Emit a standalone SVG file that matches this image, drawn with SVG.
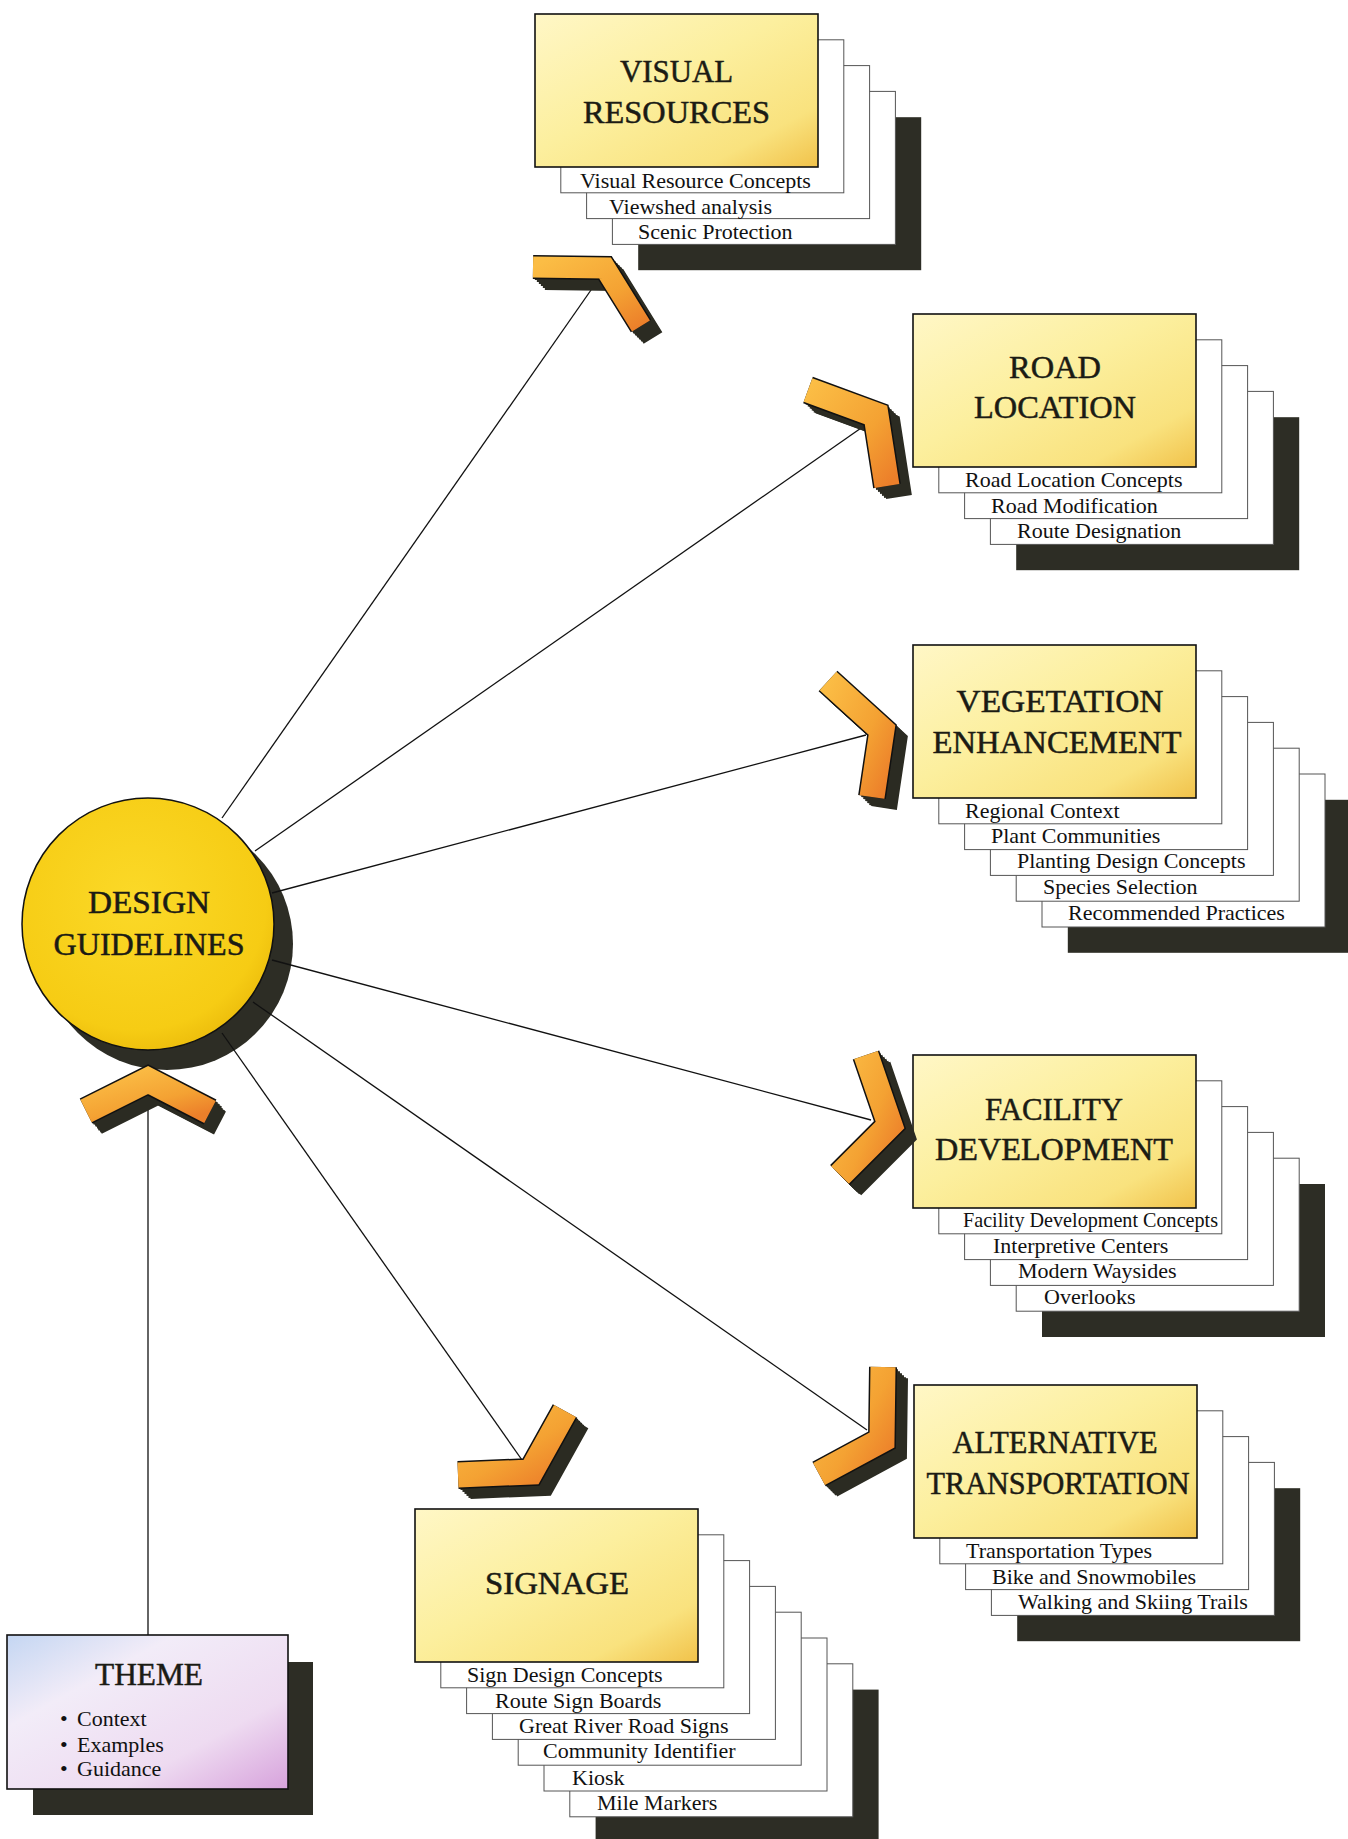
<svg xmlns="http://www.w3.org/2000/svg" width="1348" height="1839" viewBox="0 0 1348 1839">
<defs>
<linearGradient id="boxGrad" x1="0" y1="0" x2="1" y2="1">
<stop offset="0" stop-color="#fff7c6"/>
<stop offset="0.45" stop-color="#fcef9e"/>
<stop offset="0.8" stop-color="#f9e27e"/>
<stop offset="1" stop-color="#f1c24a"/>
</linearGradient>
<linearGradient id="themeGrad" x1="0" y1="0" x2="1" y2="1">
<stop offset="0" stop-color="#c4d6f2"/>
<stop offset="0.3" stop-color="#f2ecf8"/>
<stop offset="0.7" stop-color="#eedbf1"/>
<stop offset="1" stop-color="#d7a2dc"/>
</linearGradient>
<radialGradient id="circGrad" cx="0.45" cy="0.4" r="0.65">
<stop offset="0" stop-color="#fbd928"/>
<stop offset="0.8" stop-color="#f6cc14"/>
<stop offset="1" stop-color="#eab90a"/>
</radialGradient>
<linearGradient id="chevGrad" x1="0" y1="0" x2="1" y2="1">
<stop offset="0" stop-color="#fbbd45"/>
<stop offset="0.6" stop-color="#f4a233"/>
<stop offset="1" stop-color="#ec7f2a"/>
</linearGradient>
<style>
.title{font-family:"Liberation Serif","Times New Roman",serif;font-size:32px;fill:#1b1b14;stroke:#1b1b14;stroke-width:0.5;text-anchor:middle}
.item{font-family:"Liberation Serif","Times New Roman",serif;font-size:22px;fill:#111}
.layer{fill:#fff;stroke:#555;stroke-width:1}
.main{fill:url(#boxGrad);stroke:#111;stroke-width:1.6}
.shadow{fill:#2d2d25}
.conn{stroke:#111;stroke-width:1.3;fill:none}
.chevShadow{fill:none;stroke:#2b2b22;stroke-linejoin:miter;stroke-linecap:butt}
.chevEdge{fill:none;stroke:#111;stroke-linejoin:miter;stroke-linecap:butt}
.chevFace{fill:none;stroke:url(#chevGrad);stroke-linejoin:miter;stroke-linecap:butt}
</style>
</defs>
<rect width="1348" height="1839" fill="#ffffff"/>

<!-- Design Guidelines -->
<g id="design-guidelines">
<circle cx="167" cy="944" r="126" class="shadow"/>
<circle cx="148" cy="924" r="126" fill="url(#circGrad)" stroke="#111" stroke-width="1.5"/>
<text class="title" x="149" y="913" textLength="122" lengthAdjust="spacingAndGlyphs">DESIGN</text>
<text class="title" x="149" y="955" textLength="191" lengthAdjust="spacingAndGlyphs">GUIDELINES</text>
</g>

<!-- Visual Resources -->
<g id="visual-resources">
<rect class="shadow" x="638.2" y="117.2" width="283" height="153"/>
<rect class="layer" x="612.4" y="91.4" width="283" height="153"/>
<rect class="layer" x="586.6" y="65.6" width="283" height="153"/>
<rect class="layer" x="560.8" y="39.8" width="283" height="153"/>
<rect class="main" x="535" y="14" width="283" height="153"/>
<text class="title" x="676.5" y="82" textLength="113" lengthAdjust="spacingAndGlyphs">VISUAL</text>
<text class="title" x="676.5" y="123" textLength="187" lengthAdjust="spacingAndGlyphs">RESOURCES</text>
<text class="item" x="580" y="188">Visual Resource Concepts</text>
<text class="item" x="609" y="214">Viewshed analysis</text>
<text class="item" x="638" y="239">Scenic Protection</text>
</g>

<!-- Road Location -->
<g id="road-location">
<rect class="shadow" x="1016.2" y="417.2" width="283" height="153"/>
<rect class="layer" x="990.4" y="391.4" width="283" height="153"/>
<rect class="layer" x="964.6" y="365.6" width="283" height="153"/>
<rect class="layer" x="938.8" y="339.8" width="283" height="153"/>
<rect class="main" x="913" y="314" width="283" height="153"/>
<text class="title" x="1055" y="378" textLength="92" lengthAdjust="spacingAndGlyphs">ROAD</text>
<text class="title" x="1055" y="418" textLength="162" lengthAdjust="spacingAndGlyphs">LOCATION</text>
<text class="item" x="965" y="487">Road Location Concepts</text>
<text class="item" x="991" y="513">Road Modification</text>
<text class="item" x="1017" y="538">Route Designation</text>
</g>

<!-- Vegetation Enhancement -->
<g id="vegetation-enhancement">
<rect class="shadow" x="1067.8" y="799.8" width="283" height="153"/>
<rect class="layer" x="1042" y="774" width="283" height="153"/>
<rect class="layer" x="1016.2" y="748.2" width="283" height="153"/>
<rect class="layer" x="990.4" y="722.4" width="283" height="153"/>
<rect class="layer" x="964.6" y="696.6" width="283" height="153"/>
<rect class="layer" x="938.8" y="670.8" width="283" height="153"/>
<rect class="main" x="913" y="645" width="283" height="153"/>
<text class="title" x="1060" y="712" textLength="207" lengthAdjust="spacingAndGlyphs">VEGETATION</text>
<text class="title" x="1057" y="753" textLength="249" lengthAdjust="spacingAndGlyphs">ENHANCEMENT</text>
<text class="item" x="965" y="818">Regional Context</text>
<text class="item" x="991" y="843">Plant Communities</text>
<text class="item" x="1017" y="868">Planting Design Concepts</text>
<text class="item" x="1043" y="894">Species Selection</text>
<text class="item" x="1068" y="920">Recommended Practices</text>
</g>

<!-- Facility Development -->
<g id="facility-development">
<rect class="shadow" x="1042" y="1184" width="283" height="153"/>
<rect class="layer" x="1016.2" y="1158.2" width="283" height="153"/>
<rect class="layer" x="990.4" y="1132.4" width="283" height="153"/>
<rect class="layer" x="964.6" y="1106.6" width="283" height="153"/>
<rect class="layer" x="938.8" y="1080.8" width="283" height="153"/>
<rect class="main" x="913" y="1055" width="283" height="153"/>
<text class="title" x="1054" y="1120" textLength="138" lengthAdjust="spacingAndGlyphs">FACILITY</text>
<text class="title" x="1054" y="1160" textLength="238" lengthAdjust="spacingAndGlyphs">DEVELOPMENT</text>
<text class="item" x="963" y="1227" textLength="255" lengthAdjust="spacingAndGlyphs">Facility Development Concepts</text>
<text class="item" x="993" y="1253">Interpretive Centers</text>
<text class="item" x="1018" y="1278">Modern Waysides</text>
<text class="item" x="1044" y="1304">Overlooks</text>
</g>

<!-- Alternative Transportation -->
<g id="alternative-transportation">
<rect class="shadow" x="1017.2" y="1488.2" width="283" height="153"/>
<rect class="layer" x="991.4" y="1462.4" width="283" height="153"/>
<rect class="layer" x="965.6" y="1436.6" width="283" height="153"/>
<rect class="layer" x="939.8" y="1410.8" width="283" height="153"/>
<rect class="main" x="914" y="1385" width="283" height="153"/>
<text class="title" x="1055" y="1453" textLength="205" lengthAdjust="spacingAndGlyphs">ALTERNATIVE</text>
<text class="title" x="1058" y="1494" textLength="263" lengthAdjust="spacingAndGlyphs">TRANSPORTATION</text>
<text class="item" x="966" y="1558">Transportation Types</text>
<text class="item" x="992" y="1584">Bike and Snowmobiles</text>
<text class="item" x="1018" y="1609">Walking and Skiing Trails</text>
</g>

<!-- Signage -->
<g id="signage">
<rect class="shadow" x="595.6" y="1689.6" width="283" height="153"/>
<rect class="layer" x="569.8" y="1663.8" width="283" height="153"/>
<rect class="layer" x="544" y="1638" width="283" height="153"/>
<rect class="layer" x="518.2" y="1612.2" width="283" height="153"/>
<rect class="layer" x="492.4" y="1586.4" width="283" height="153"/>
<rect class="layer" x="466.6" y="1560.6" width="283" height="153"/>
<rect class="layer" x="440.8" y="1534.8" width="283" height="153"/>
<rect class="main" x="415" y="1509" width="283" height="153"/>
<text class="title" x="557" y="1594" textLength="144" lengthAdjust="spacingAndGlyphs">SIGNAGE</text>
<text class="item" x="467" y="1682">Sign Design Concepts</text>
<text class="item" x="495" y="1708">Route Sign Boards</text>
<text class="item" x="519" y="1733">Great River Road Signs</text>
<text class="item" x="543" y="1758">Community Identifier</text>
<text class="item" x="572" y="1785">Kiosk</text>
<text class="item" x="597" y="1810">Mile Markers</text>
</g>

<!-- Theme -->
<g id="theme">
<rect class="shadow" x="33" y="1662" width="280" height="153"/>
<rect x="7" y="1635" width="281" height="154" fill="url(#themeGrad)" stroke="#111" stroke-width="1.6"/>
<text class="title" x="149" y="1685" font-size="30" textLength="108" lengthAdjust="spacingAndGlyphs">THEME</text>
<text class="item" x="60" y="1726">•</text><text class="item" x="77" y="1726">Context</text>
<text class="item" x="60" y="1752">•</text><text class="item" x="77" y="1752">Examples</text>
<text class="item" x="60" y="1776">•</text><text class="item" x="77" y="1776">Guidance</text>
</g>

<!-- Connectors -->
<g id="connectors">
<line class="conn" x1="222" y1="818" x2="598" y2="280"/>
<line class="conn" x1="255" y1="851" x2="864" y2="426"/>
<line class="conn" x1="272" y1="893" x2="866" y2="735"/>
<line class="conn" x1="272" y1="960" x2="871" y2="1120"/>
<line class="conn" x1="253" y1="1002" x2="867" y2="1430"/>
<line class="conn" x1="222" y1="1033" x2="522" y2="1460"/>
<line class="conn" x1="148" y1="1095" x2="148" y2="1635" stroke="#777" stroke-width="1"/>
</g>

<!-- Chevrons -->
<g id="chevron-visual">
<g class="chevShadow" stroke-width="22">
<polyline points="535,269 607,270 643,328"/><polyline points="537,271 609,272 645,330"/><polyline points="539,273 611,274 647,332"/><polyline points="541,275 613,276 649,334"/><polyline points="543,277 615,278 651,336"/><polyline points="545,279 617,280 653,338"/>
</g>
<polyline class="chevEdge" stroke-width="24" points="533,267 605,268 641,326"/>
<polyline class="chevFace" stroke-width="21" points="533,267 605,268 641,326"/>
</g>
<g id="chevron-road">
<g class="chevShadow" stroke-width="26">
<polyline points="810,392 878,417 889,488"/><polyline points="812,394 880,419 891,490"/><polyline points="814,396 882,421 893,492"/><polyline points="816,398 884,423 895,494"/><polyline points="818,400 886,425 897,496"/><polyline points="820,401 888,426 899,497"/>
</g>
<polyline class="chevEdge" stroke-width="28" points="808,390 876,415 887,486"/>
<polyline class="chevFace" stroke-width="25" points="808,390 876,415 887,486"/>
</g>
<g id="chevron-vegetation">
<g class="chevShadow" stroke-width="26">
<polyline points="830,683 884,732 874,799"/><polyline points="832,685 886,734 876,801"/><polyline points="834,687 888,736 878,803"/><polyline points="836,689 890,738 880,805"/><polyline points="838,691 892,740 882,807"/><polyline points="840,692 894,741 884,808"/>
</g>
<polyline class="chevEdge" stroke-width="28" points="828,681 882,730 872,797"/>
<polyline class="chevFace" stroke-width="25" points="828,681 882,730 872,797"/>
</g>
<g id="chevron-facility">
<g class="chevShadow" stroke-width="26">
<polyline points="868,1057 892,1127 842,1177"/><polyline points="870,1059 894,1129 844,1179"/><polyline points="872,1061 896,1131 846,1181"/><polyline points="874,1063 898,1133 848,1183"/><polyline points="876,1065 900,1135 850,1185"/><polyline points="878,1066 902,1136 852,1186"/>
</g>
<polyline class="chevEdge" stroke-width="28" points="866,1055 890,1125 840,1175"/>
<polyline class="chevFace" stroke-width="25" points="866,1055 890,1125 840,1175"/>
</g>
<g id="chevron-alternative">
<g class="chevShadow" stroke-width="26">
<polyline points="885,1369 884,1442 821,1476"/><polyline points="887,1371 886,1444 823,1478"/><polyline points="889,1373 888,1446 825,1480"/><polyline points="891,1375 890,1448 827,1482"/><polyline points="893,1377 892,1450 829,1484"/><polyline points="895,1378 894,1451 831,1485"/>
</g>
<polyline class="chevEdge" stroke-width="28" points="883,1367 882,1440 819,1474"/>
<polyline class="chevFace" stroke-width="25" points="883,1367 882,1440 819,1474"/>
</g>
<g id="chevron-signage">
<g class="chevShadow" stroke-width="26">
<polyline points="460,1477 533,1474 567,1413"/><polyline points="462,1479 535,1476 569,1415"/><polyline points="464,1481 537,1478 571,1417"/><polyline points="466,1483 539,1480 573,1419"/><polyline points="468,1485 541,1482 575,1421"/><polyline points="470,1486 543,1483 577,1422"/>
</g>
<polyline class="chevEdge" stroke-width="28" points="458,1475 531,1472 565,1411"/>
<polyline class="chevFace" stroke-width="25" points="458,1475 531,1472 565,1411"/>
</g>
<g id="chevron-theme">
<g class="chevShadow" stroke-width="26">
<polyline points="88,1113 150,1082 212,1114"/><polyline points="90,1115 152,1084 214,1116"/><polyline points="92,1117 154,1086 216,1118"/><polyline points="93,1119 155,1088 217,1120"/><polyline points="95,1121 157,1090 219,1122"/><polyline points="96,1122 158,1091 220,1123"/>
</g>
<polyline class="chevEdge" stroke-width="28" points="86,1111 148,1080 210,1112"/>
<polyline class="chevFace" stroke-width="25" points="86,1111 148,1080 210,1112"/>
</g>
</svg>
